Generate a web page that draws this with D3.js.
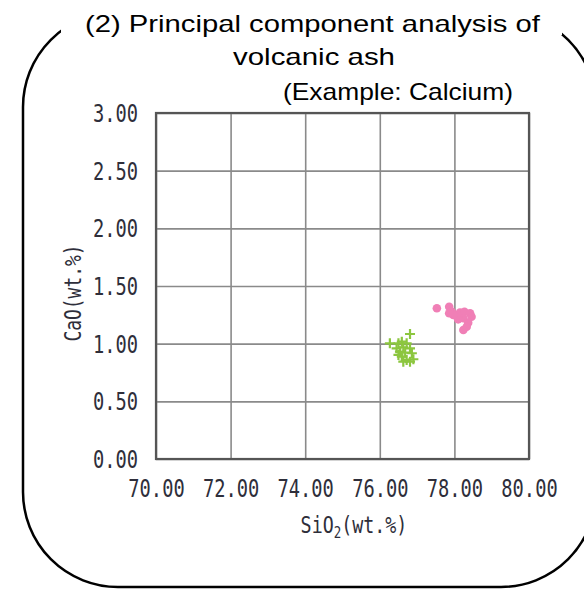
<!DOCTYPE html>
<html>
<head>
<meta charset="utf-8">
<script src="https://cdn.jsdelivr.net/npm/d3@7"></script>
<style>
  html, body { margin: 0; padding: 0; background: #fff; }
  svg { display: block; }
</style>
</head>
<body>
<div id="chart"></div>
<script>
// ---- data ----
const titleLines = ["(2) Principal component analysis of", "volcanic ash", "(Example: Calcium)"];
const xTicks = [70, 72, 74, 76, 78, 80];
const yTicks = [0, 0.5, 1, 1.5, 2, 2.5, 3];
const xLabel = "SiO";
const xLabelSub = "2";
const xLabelTail = "(wt.%)";
const yLabel = "CaO(wt.%)";

// pink circles
const pinkX = [77.53, 77.86, 77.93, 78.06, 78.15, 78.27, 78.42, 78.46, 78.24, 78.10, 78.37, 78.33, 78.24, 77.97, 77.86];
const pinkY = [1.307, 1.320, 1.277, 1.249, 1.269, 1.277, 1.264, 1.234, 1.220, 1.211, 1.182, 1.147, 1.119, 1.249, 1.264];
// green crosses
const greenX = [76.81, 76.27, 76.50, 76.59, 76.72, 76.45, 76.63, 76.81, 76.54, 76.68, 76.86, 76.59, 76.72, 76.90, 76.81, 76.63, 76.50];
const greenY = [1.084, 1.003, 1.003, 1.017, 1.003, 0.960, 0.969, 0.960, 0.931, 0.922, 0.917, 0.887, 0.859, 0.865, 0.844, 0.844, 0.902];

// ---- layout ----
const W = 584, H = 589;
const svg = d3.select("#chart").append("svg").attr("width", W).attr("height", H);

const x = d3.scaleLinear().domain([70, 80]).range([156, 529]);
const y = d3.scaleLinear().domain([0, 3]).range([459, 113]);

// rounded frame
svg.append("rect")
  .attr("x", 23).attr("y", 12).attr("width", 573).attr("height", 575)
  .attr("rx", 95).attr("ry", 95)
  .attr("fill", "none").attr("stroke", "#000").attr("stroke-width", 2.5);
// white backdrop behind title cutting the frame top
svg.append("rect")
  .attr("x", 61).attr("y", 0).attr("width", 501).attr("height", 35)
  .attr("fill", "#fff");

// title
const titleSpec = [
  { x0: 85, x1: 540, base: 32 },
  { x0: 233, x1: 395, base: 65 },
  { x0: 283, x1: 513, base: 100 }
];
titleLines.forEach((t, i) => {
  const s = titleSpec[i];
  svg.append("text")
    .attr("x", s.x0).attr("y", s.base)
    .attr("textLength", s.x1 - s.x0)
    .attr("lengthAdjust", "spacingAndGlyphs")
    .attr("font-family", "'Liberation Sans', Arial, sans-serif")
    .attr("font-size", 24)
    .attr("fill", "#000")
    .text(t);
});

const monoFont = "'DejaVu Sans Mono', 'Liberation Mono', monospace";
const sx = 0.78;

// grid via axes
const gridX = svg.append("g")
  .attr("transform", `translate(0,${y(0)})`)
  .call(d3.axisBottom(x).tickValues(xTicks).tickSize(-(y(0) - y(3))).tickFormat(""));
gridX.select(".domain").remove();
gridX.selectAll("line").attr("stroke", "#8a8a8a").attr("stroke-width", 1.6);

const gridY = svg.append("g")
  .attr("transform", `translate(${x(70)},0)`)
  .call(d3.axisLeft(y).tickValues(yTicks).tickSize(-(x(80) - x(70))).tickFormat(""));
gridY.select(".domain").remove();
gridY.selectAll("line").attr("stroke", "#8a8a8a").attr("stroke-width", 1.6);

// plot border
svg.append("rect")
  .attr("x", x(70)).attr("y", y(3))
  .attr("width", x(80) - x(70)).attr("height", y(0) - y(3))
  .attr("fill", "none").attr("stroke", "#555").attr("stroke-width", 2.2);

// tick labels via axes
const axX = svg.append("g")
  .attr("transform", `translate(0,${y(0)})`)
  .call(d3.axisBottom(x).tickValues(xTicks).tickSize(0).tickFormat(d3.format(".2f")));
axX.select(".domain").remove();
axX.selectAll("text")
  .attr("y", 38.5).attr("dy", "0")
  .attr("transform", `scale(${sx},1)`)
  .attr("font-family", monoFont).attr("font-size", 24).attr("fill", "#2e2e3a");

const axY = svg.append("g")
  .attr("transform", `translate(${x(70)},0)`)
  .call(d3.axisLeft(y).tickValues(yTicks).tickSize(0).tickFormat(d3.format(".2f")));
axY.select(".domain").remove();
axY.selectAll("text")
  .attr("x", -18 / sx).attr("dy", "0.36em")
  .attr("transform", `scale(${sx},1)`)
  .attr("font-family", monoFont).attr("font-size", 24).attr("fill", "#2e2e3a");

// axis titles
const xt = svg.append("text")
  .attr("transform", `translate(354,525) scale(${sx},1)`)
  .attr("text-anchor", "middle").attr("dy", "0.36em")
  .attr("font-family", monoFont).attr("font-size", 23.5).attr("fill", "#2e2e3a");
xt.append("tspan").text(xLabel);
xt.append("tspan").attr("font-size", 16).attr("dy", 5).text(xLabelSub);
xt.append("tspan").attr("dy", -5).text(xLabelTail);

svg.append("text")
  .attr("transform", `translate(73,293) rotate(-90) scale(${sx},1)`)
  .attr("text-anchor", "middle").attr("dy", "0.36em")
  .attr("font-family", monoFont).attr("font-size", 23).attr("fill", "#2e2e3a")
  .text(yLabel);

// points
const pink = pinkX.map((v, i) => ({ x: v, y: pinkY[i] }));
const green = greenX.map((v, i) => ({ x: v, y: greenY[i] }));

svg.append("g").selectAll("circle").data(pink).join("circle")
  .attr("cx", d => x(d.x)).attr("cy", d => y(d.y)).attr("r", 4.3)
  .attr("fill", "#f07fb6");

svg.append("g").selectAll("path").data(green).join("path")
  .attr("transform", d => `translate(${x(d.x)},${y(d.y)})`)
  .attr("d", "M-5,0H5M0,-5V5")
  .attr("stroke", "#8cc63f").attr("stroke-width", 2.2).attr("fill", "none");
</script>
</body>
</html>
